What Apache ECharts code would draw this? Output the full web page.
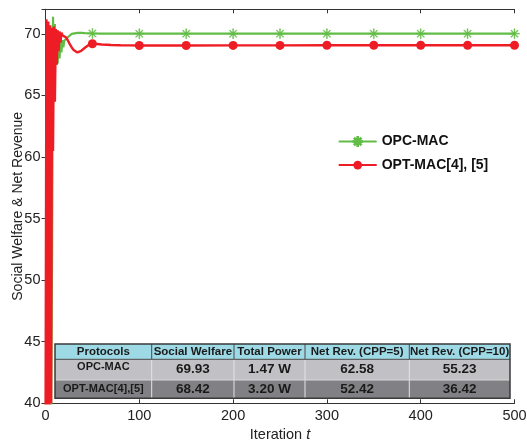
<!DOCTYPE html>
<html><head><meta charset="utf-8">
<script src="https://cdn.jsdelivr.net/npm/echarts@6/dist/echarts.min.js"></script>
<style>html,body{margin:0;padding:0;background:#fff}#c{width:527px;height:444px}</style>
</head><body><div id="c"></div>
<script>
// ---- data ----
const opcIter = [0,2,4,6,7,8,9,10,11,12,13,14,15,16,17,18,19,20,22,24,26,28,30,34,38,42,50,60,80,100,150,200,250,300,350,400,450,500];
const opcValue = [38,38,38,39,52,71.4,68.0,70.8,67.5,70.3,67.6,69.9,68.0,69.6,68.5,69.5,68.9,69.45,69.55,69.75,69.9,70.0,70.05,70.08,70.08,70.06,70.04,70.03,70.02,70.02,70.02,70.02,70.02,70.02,70.02,70.02,70.02,70.02];
const optIter = [0,1,2,3,4,5,6,7,8,9,10,11,12,13,14,15,16,17,18,20,22,24,26,28,30,32,34,36,38,40,42,44,46,48,50,55,60,70,80,90,100,150,200,250,300,350,400,450,500];
const optValue = [36,71.2,37,71.0,38,70.7,40,70.5,60.5,70.6,64.5,70.4,67.5,70.3,68.6,70.2,69.3,70.1,69.9,69.85,69.7,69.45,69.15,68.9,68.7,68.57,68.5,68.52,68.62,68.75,68.88,69.0,69.1,69.17,69.2,69.18,69.14,69.1,69.08,69.07,69.06,69.06,69.07,69.07,69.08,69.08,69.08,69.08,69.08];
const markerIters = [50,100,150,200,250,300,350,400,450,500];
const seriesNames = ['OPC-MAC','OPT-MAC[4], [5]'];

const tableHeader = ['Protocols','Social Welfare','Total Power','Net Rev. (CPP=5)','Net Rev. (CPP=10)'];
const tableProtocols = ['OPC-MAC','OPT-MAC[4],[5]'];
const tableSocialWelfare = ['69.93','68.42'];
const tableTotalPower = ['1.47 W','3.20 W'];
const tableNetRev5 = ['62.58','52.42'];
const tableNetRev10 = ['55.23','36.42'];

// ---- build ----
function build(it, v){
  return it.map((t,i)=> markerIters.includes(t) ? {value:[t,v[i]]} : {value:[t,v[i]], symbol:'none'});
}
const asterisk = 'path://M-0.08,-1L0.08,-1L0.08,1L-0.08,1Z M-1,-0.08L1,-0.08L1,0.08L-1,0.08Z M-0.643,-0.757L0.757,0.643L0.643,0.757L-0.757,-0.643Z M-0.757,0.643L0.643,-0.757L0.757,-0.643L-0.643,0.757Z';

const FONT = '"Liberation Sans", Arial, Helvetica, sans-serif';
const GREEN = '#62bd47', RED = '#ee1d25';

// table layout
const colX = [55,151.7,234,305,409.3,510];
const rowY = [344,359.3,380,398.3];
const rowFill = ['#9ed9e6','#c1c1c5','#818185'];
const tableRows = [tableHeader];
for (let r=0;r<tableProtocols.length;r++){
  tableRows.push([tableProtocols[r],tableSocialWelfare[r],tableTotalPower[r],tableNetRev5[r],tableNetRev10[r]]);
}
const g = [];
for (let r=0;r<3;r++){
  g.push({type:'rect',shape:{x:colX[0],y:rowY[r],width:colX[5]-colX[0],height:rowY[r+1]-rowY[r]},style:{fill:rowFill[r]},z:100});
  for (let c=0;c<5;c++){
    let fs = r===0 ? 11.5 : (c===0 ? 11 : 13.5);
    let dy = (r===1 && c===0) ? -2.5 : 0;
    g.push({type:'text',x:(colX[c]+colX[c+1])/2,y:(rowY[r]+rowY[r+1])/2+dy,
      style:{text:tableRows[r][c],fill:'#1a1a1a',font:'bold '+fs+'px '+FONT,align:'center',verticalAlign:'middle'},z:102});
  }
}
for (let c=1;c<5;c++){
  g.push({type:'line',shape:{x1:colX[c],y1:rowY[0],x2:colX[c],y2:rowY[1]},style:{stroke:'#4a4a4a',lineWidth:1},z:101});
  g.push({type:'line',shape:{x1:colX[c],y1:rowY[1],x2:colX[c],y2:rowY[3]},style:{stroke:'#e4e4e4',lineWidth:1},z:101});
}
g.push({type:'line',shape:{x1:colX[0],y1:rowY[1],x2:colX[5],y2:rowY[1]},style:{stroke:'#4a4a4a',lineWidth:1},z:101});
g.push({type:'line',shape:{x1:colX[0],y1:rowY[2],x2:colX[5],y2:rowY[2]},style:{stroke:'#d8d8d8',lineWidth:1},z:101});
g.push({type:'rect',shape:{x:colX[0],y:rowY[0],width:colX[5]-colX[0],height:rowY[3]-rowY[0]},style:{fill:null,stroke:'#3a3a3a',lineWidth:1.5},z:103});

const axisCommon = {
  axisLine:{show:true,lineStyle:{color:'#333',width:1}},
  axisTick:{show:true,inside:true,length:4,lineStyle:{color:'#333'}},
  splitLine:{show:false}
};

const chart = echarts.init(document.getElementById('c'));
chart.setOption({
  animation:false,
  grid:{left:45.5,right:12.5,top:9.3,bottom:40.7,containLabel:false,outerBoundsMode:'none'},
  legend:{
    orient:'vertical',left:332.7,top:129.5,itemWidth:38,itemHeight:11,itemGap:9.6,
    textStyle:{fontFamily:FONT,fontWeight:'bold',fontSize:14,color:'#111',lineHeight:14},
    data:seriesNames
  },
  xAxis:[
    Object.assign({type:'value',min:0,max:500,interval:100,position:'bottom',
      name:'{a|Iteration }{b|t}',nameLocation:'middle',nameGap:24,nameMoveOverlap:false,
      nameTextStyle:{rich:{a:{fontFamily:FONT,fontSize:14.5,color:'#222'},b:{fontFamily:FONT,fontSize:14.5,fontStyle:'italic',color:'#222'}}},
      axisLabel:{fontFamily:FONT,fontSize:14.5,color:'#222',margin:5}},axisCommon),
    Object.assign({type:'value',min:0,max:500,interval:100,position:'top',axisLabel:{show:false}},axisCommon)
  ],
  yAxis:[
    Object.assign({type:'value',min:40,max:72,interval:5,position:'left',
      name:'Social Welfare & Net Revenue',nameLocation:'middle',nameGap:20,nameMoveOverlap:false,
      nameTextStyle:{fontFamily:FONT,fontSize:14,color:'#222'},
      axisLabel:{fontFamily:FONT,fontSize:14.5,color:'#222',margin:5,showMaxLabel:false}},axisCommon),
    Object.assign({type:'value',min:40,max:72,interval:5,position:'right',axisLabel:{show:false}},axisCommon)
  ],
  series:[
    {name:seriesNames[0],type:'line',data:build(opcIter,opcValue),symbol:asterisk,symbolSize:10,showSymbol:true,
      lineStyle:{color:GREEN,width:2.2},itemStyle:{color:GREEN,borderColor:GREEN,borderWidth:0.5},z:2},
    {name:seriesNames[1],type:'line',data:build(optIter,optValue),symbol:'circle',symbolSize:9,showSymbol:true,
      lineStyle:{color:RED,width:2.4},itemStyle:{color:RED},z:3}
  ],
  graphic:g
});
</script>
</body></html>
